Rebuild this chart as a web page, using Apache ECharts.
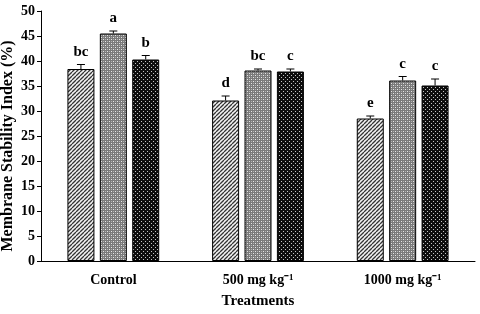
<!DOCTYPE html>
<html><head><meta charset="utf-8">
<script src="https://cdn.jsdelivr.net/npm/echarts@6/dist/echarts.min.js"></script>
<style>html,body{margin:0;padding:0;background:#fff}#c{width:480px;height:314px}</style>
</head><body><div id="c"></div>
<script>
const categories = ['Control', '500 mg kg\u207B\u00B9', '1000 mg kg\u207B\u00B9'];
const series1 = [38.4, 32.1, 28.5];
const series2 = [45.5, 38.1, 36.1];
const series3 = [40.3, 37.9, 35.1];
const err1 = [0.9, 0.9, 0.5];
const err2 = [0.5, 0.3, 0.8];
const err3 = [0.8, 0.5, 1.3];
const letters1 = ['bc', 'd', 'e'];
const letters2 = ['a', 'bc', 'c'];
const letters3 = ['b', 'c', 'c'];
const yTicks = [0, 5, 10, 15, 20, 25, 30, 35, 40, 45, 50];

const FONT = '"Liberation Serif", "Times New Roman", serif';
const BW = 27, GAP = 0.2;

function makePattern(kind) {
  const c = document.createElement('canvas');
  const ctx = c.getContext('2d');
  c.width = 4; c.height = 4;
  if (kind === 'hatch') {
    ctx.fillStyle = '#f2f2f2'; ctx.fillRect(0, 0, 4, 4);
    ctx.strokeStyle = '#333'; ctx.lineWidth = 1.3;
    ctx.beginPath();
    for (let k = -4; k <= 8; k += 4) { ctx.moveTo(k, 4); ctx.lineTo(k + 4, 0); }
    ctx.stroke();
  } else if (kind === 'grey') {
    ctx.fillStyle = '#7a7a7a'; ctx.fillRect(0, 0, 4, 4);
    ctx.fillStyle = '#e6e6e6'; ctx.fillRect(1, 1, 1, 1); ctx.fillRect(3, 3, 1, 1);
    ctx.fillStyle = '#b0b0b0'; ctx.fillRect(3, 1, 1, 1); ctx.fillRect(1, 3, 1, 1);
  } else {
    ctx.fillStyle = '#0e0e0e'; ctx.fillRect(0, 0, 4, 4);
    ctx.fillStyle = '#c4c4c4'; ctx.fillRect(1, 1, 1, 1); ctx.fillRect(3, 3, 1, 1);
  }
  return { image: c, repeat: 'repeat' };
}

const vals = [series1, series2, series3];
const errs = [err1, err2, err3];
const lets = [letters1, letters2, letters3];
const pats = [makePattern('hatch'), makePattern('grey'), makePattern('dots')];

const series = [];
vals.forEach((v, i) => {
  series.push({
    type: 'bar', data: v, barWidth: BW, barGap: (GAP * 100) + '%',
    itemStyle: { color: pats[i], borderColor: '#000', borderWidth: 1 },
    silent: true, animation: false, z: 2
  });
});
vals.forEach((v, i) => {
  series.push({
    type: 'custom', silent: true, animation: false, z: 3,
    data: v.map((val, j) => [j, val, errs[i][j]]),
    renderItem: function (params, api) {
      const j = api.value(0), val = api.value(1), e = api.value(2);
      const off = (i - 1) * BW * (1 + GAP);
      const p0 = api.coord([j, val]);
      const p1 = api.coord([j, val + e]);
      const x = p0[0] + off;
      const cap = 4;
      return {
        type: 'group', children: [
          { type: 'line', shape: { x1: x, y1: p0[1], x2: x, y2: p1[1] }, style: { stroke: '#000', lineWidth: 1 } },
          { type: 'line', shape: { x1: x - cap, y1: p1[1], x2: x + cap, y2: p1[1] }, style: { stroke: '#000', lineWidth: 1 } },
          { type: 'text', x: x, y: p1[1] - 5, style: { text: lets[i][params.dataIndex], textAlign: 'center', textVerticalAlign: 'bottom', font: 'bold 15px ' + FONT, fill: '#000' } }
        ]
      };
    }
  });
});

const chart = echarts.init(document.getElementById('c'), null, { renderer: 'canvas' });
chart.setOption({
  backgroundColor: '#fff',
  animation: false,
  grid: { left: 41, right: 5, top: 11, bottom: 53, containLabel: false, outerBoundsMode: 'none' },
  xAxis: {
    type: 'category', data: categories,
    axisLine: { lineStyle: { color: '#000', width: 1 } },
    axisTick: { show: false },
    axisLabel: { color: '#000', fontFamily: FONT, fontWeight: 'bold', fontSize: 14, margin: 12 },
    name: 'Treatments', nameLocation: 'middle', nameGap: 33, nameMoveOverlap: false,
    nameTextStyle: { color: '#000', fontFamily: FONT, fontWeight: 'bold', fontSize: 15 }
  },
  yAxis: {
    type: 'value', min: yTicks[0], max: yTicks[yTicks.length - 1], interval: yTicks[1] - yTicks[0],
    axisLine: { show: true, lineStyle: { color: '#000', width: 1 } },
    axisTick: { show: true, length: 4, lineStyle: { color: '#000' } },
    splitLine: { show: false },
    axisLabel: { color: '#000', fontFamily: FONT, fontWeight: 'bold', fontSize: 14, margin: 6 },
    name: 'Membrane Stability Index (%)', nameLocation: 'middle', nameGap: 25, nameMoveOverlap: false,
    nameTextStyle: { color: '#000', fontFamily: FONT, fontWeight: 'bold', fontSize: 16, padding: [0, 20, 0, 0] }
  },
  series: series
});
</script></body></html>
